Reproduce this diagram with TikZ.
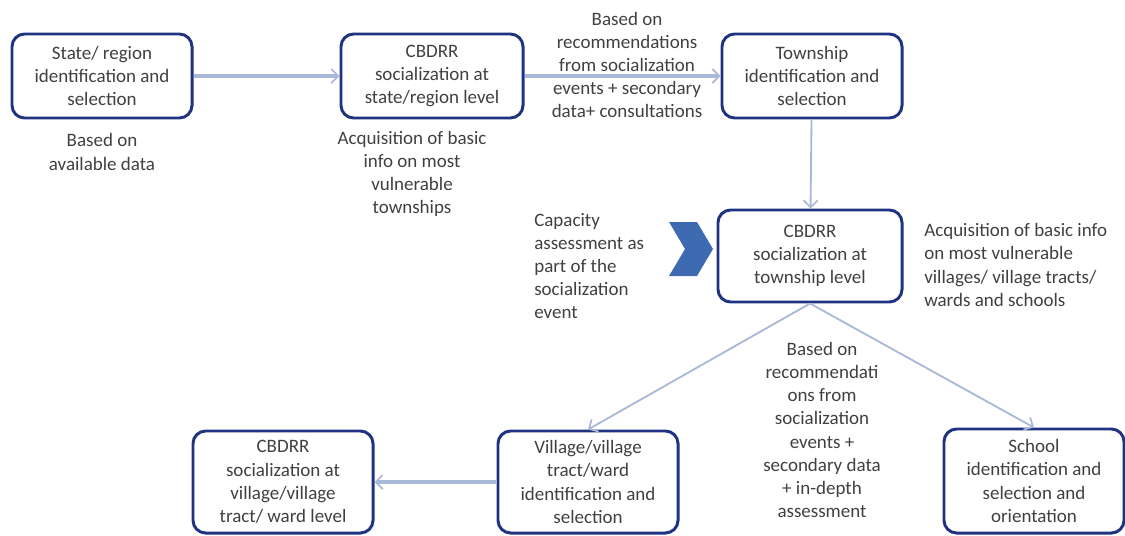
\documentclass[tikz,border=0pt]{standalone}
\usepackage{fontspec}
\setmainfont{Carlito}
\usetikzlibrary{arrows.meta}

\definecolor{boxblue}{HTML}{203282}
\definecolor{flowblue}{HTML}{A8B8D6}
\definecolor{notegray}{HTML}{404040}
\definecolor{chevblue}{HTML}{3E6AB2}

\tikzset{
  stage/.style={draw=boxblue, line width=2.1pt, rounded corners=9pt, fill=white,
    minimum width=4.5cm, minimum height=2.1cm, align=center, text=notegray,
    inner sep=2pt, font=\fontsize{13.5}{16.5}\selectfont},
  note/.style={text=notegray, align=center, inner sep=0pt,
    font=\fontsize{13.5}{16.5}\selectfont},
  flow/.style={draw=flowblue, line width=2.6pt,
    -{Straight Barb[length=5pt,width=10pt,line width=1.2pt]}},
  thinflow/.style={draw=flowblue, line width=1.3pt,
    -{Straight Barb[length=5pt,width=10pt,line width=1.2pt]}}
}

\begin{document}
\begin{tikzpicture}[x=0.025cm, y=-0.025cm]
  \useasboundingbox (0,0) rectangle (1125,535);

  % top row
  \node[stage] (state) at (102,76) {State/ region\\identification and\\selection};
  \node[stage, minimum width=4.55cm] (statesoc) at (432,76) {CBDRR\\socialization at\\state/region level};
  \node[stage] (township) at (812,76) {Township\\identification and\\selection};

  % middle
  \node[stage, minimum width=4.6cm, minimum height=2.3cm] (townsoc) at (810,256) {CBDRR\\socialization at\\township level};

  % bottom row
  \node[stage, minimum height=2.55cm] (villsoc) at (283,482) {CBDRR\\socialization at\\village/village\\tract/ ward level};
  \node[stage, minimum height=2.55cm] (village) at (588,482) {Village/village\\tract/ward\\identification and\\selection};
  \node[stage, minimum height=2.6cm] (school) at (1034,481) {School\\identification and\\selection and\\orientation};

  % notes
  \node[note] (availnote) at (102,152) {Based on\\available data};
  \node[note] (acqtown) at (412,174) {Acquisition of basic\\info on most\\vulnerable\\townships};
  \node[note] (recstate) at (627,65) {Based on\\recommendations\\from socialization\\events + secondary\\data+ consultations};
  \node[note, anchor=west, align=left] (capnote) at (534,266) {Capacity\\assessment as\\part of the\\socialization\\event};
  \node[note, anchor=west, align=left] (acqvill) at (924,265) {Acquisition of basic info\\on most vulnerable\\villages/ village tracts/\\wards and schools};
  \node[note] (rectown) at (822,430) {Based on\\recommendati\\ons from\\socialization\\events +\\secondary data\\+ in-depth\\assessment};

  % chevron
  \fill[chevblue] (669,222) -- (697,222) -- (713,249) -- (697,276) -- (669,276) -- (685,249) -- cycle;

  % connectors
  \draw[flow] (state) -- (statesoc);
  \draw[flow] (statesoc) -- (township);
  \draw[thinflow] (township) -- (townsoc);
  \draw[thinflow] (townsoc.south) -- (village.north);
  \draw[thinflow] (townsoc.south) -- (school.north);
  \draw[flow] (village) -- (villsoc);
\end{tikzpicture}
\end{document}
